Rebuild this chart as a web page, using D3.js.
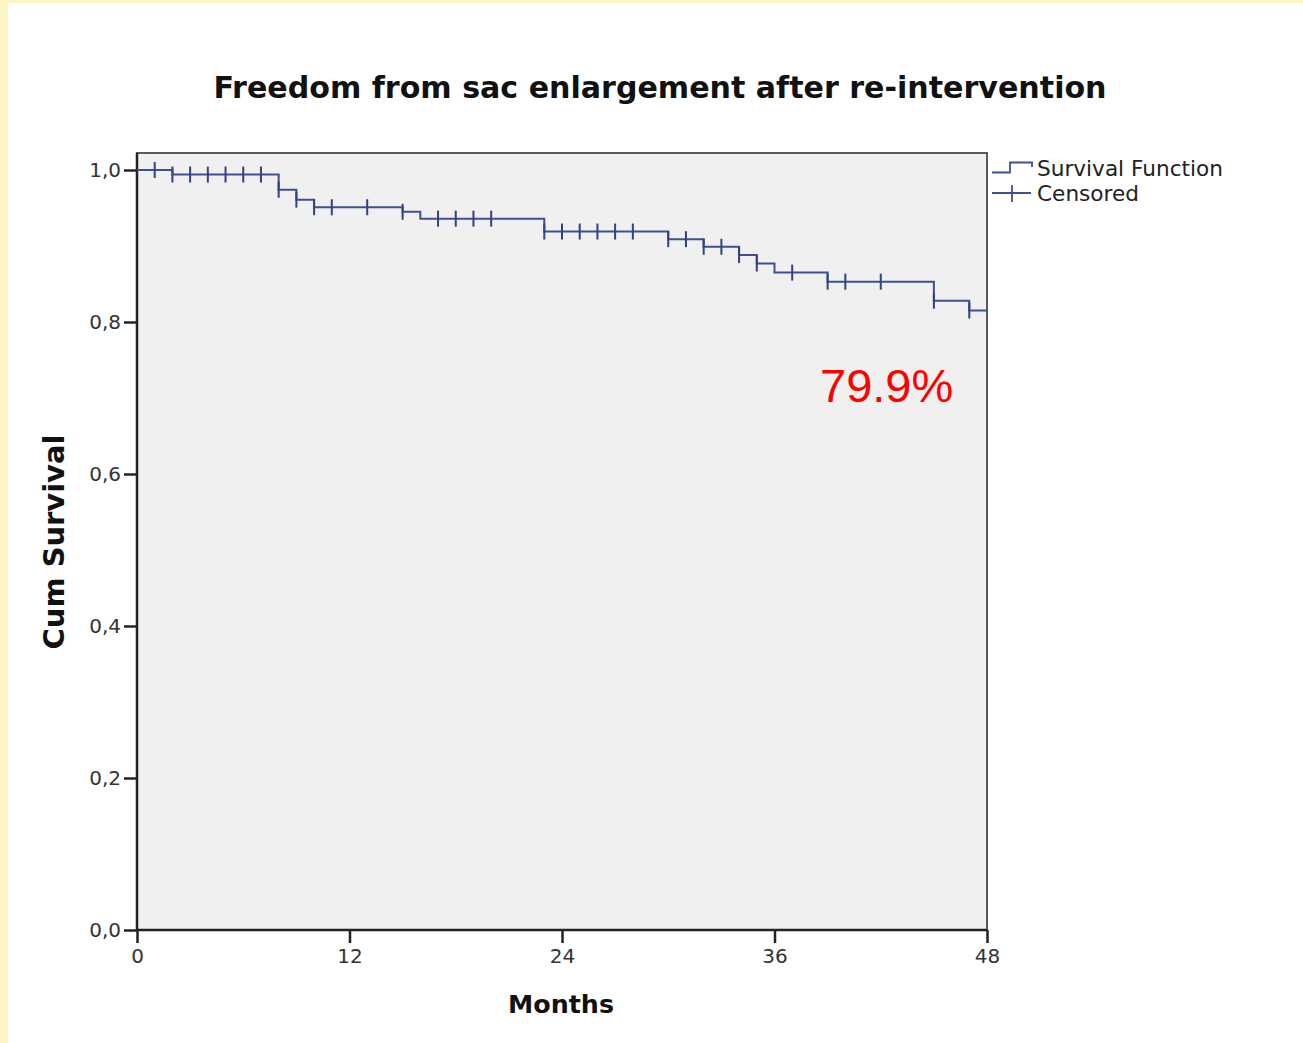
<!DOCTYPE html>
<html>
<head>
<meta charset="utf-8">
<script src="https://cdn.jsdelivr.net/npm/d3@7/dist/d3.min.js"></script>
<style>
  html, body { margin: 0; padding: 0; background: #fdf5c3; }
  svg { display: block; }
</style>
</head>
<body>
<svg id="chart" width="1303" height="1043"></svg>
<script>
// Kaplan-Meier estimate: event times (months) and survival level after each step
const stepTimes    = [0, 2, 8, 9, 10, 15, 16, 23, 30, 32, 34, 35, 36, 39, 45, 47];
const stepSurvival = [1.0, 0.994, 0.974, 0.961, 0.951, 0.945, 0.936, 0.919, 0.909, 0.899, 0.888, 0.877, 0.865, 0.853, 0.828, 0.815];
const followUpEnd  = 48;

// Censored observations (months)
const censoredTimes = [1, 2, 3, 4, 5, 6, 7, 8, 9, 10, 11, 13, 15, 17, 18, 19, 20,
  23, 24, 25, 26, 27, 28, 30, 31, 32, 33, 34, 35, 37, 39, 40, 42, 45, 47];

// Axis ticks
const xTicks = [0, 12, 24, 36, 48];
const yTicks = [0, 0.2, 0.4, 0.6, 0.8, 1.0];
const yTickLabels = ["0,0", "0,2", "0,4", "0,6", "0,8", "1,0"];

const titleText = "Freedom from sac enlargement after re-intervention";
const xTitle = "Months";
const yTitle = "Cum Survival";
const legendLabels = ["Survival Function", "Censored"];
const annotationText = "79.9%";

const svg = d3.select("#chart");
const lineColor = "#3d5091";
const font = "'DejaVu Sans', sans-serif";

// white page on the pale yellow backdrop
svg.append("rect").attr("x", 8).attr("y", 3).attr("width", 1295).attr("height", 1040).attr("fill", "#ffffff");

const plot = { left: 137, right: 987, bottom: 930, top: 153 };
const x = d3.scaleLinear().domain([0, 48]).range([plot.left, plot.right]);
const y = d3.scaleLinear().domain([0, 1]).range([plot.bottom, 170]);

// plot background and frame
svg.append("rect")
  .attr("x", plot.left).attr("y", plot.top)
  .attr("width", plot.right - plot.left).attr("height", plot.bottom - plot.top)
  .attr("fill", "#f0f0f0").attr("stroke", "#5a5a5a").attr("stroke-width", 2);

// axes
const xAxis = svg.append("g").attr("transform", `translate(0,${plot.bottom})`)
  .call(d3.axisBottom(x).tickValues(xTicks).tickFormat(d3.format("d")).tickSize(13).tickPadding(6));
const yAxis = svg.append("g").attr("transform", `translate(${plot.left},0)`)
  .call(d3.axisLeft(y).tickValues(yTicks).tickFormat((d, i) => yTickLabels[i]).tickSize(13).tickPadding(3));

[xAxis, yAxis].forEach(g => {
  g.select(".domain").attr("stroke", "#222").attr("stroke-width", 2.5);
  g.selectAll(".tick line").attr("stroke", "#222").attr("stroke-width", 2.5);
  g.selectAll(".tick text").attr("fill", "#333").style("font-family", font).style("font-size", "20px");
});
xAxis.select(".domain").attr("d", `M${plot.left},0H${plot.right}`);
yAxis.select(".domain").attr("d", `M0,${plot.bottom}V${plot.top}`);

// survival step function
const stepData = stepTimes.map((t, i) => ({ t, s: stepSurvival[i] }));
stepData.push({ t: followUpEnd, s: stepSurvival[stepSurvival.length - 1] });
const stepLine = d3.line().x(d => x(d.t)).y(d => y(d.s)).curve(d3.curveStepAfter);
svg.append("path").datum(stepData)
  .attr("d", stepLine).attr("fill", "none")
  .attr("stroke", lineColor).attr("stroke-width", 2);

// survival level at a given time (for placing censor marks)
function survivalAt(t) {
  let s = stepSurvival[0];
  for (let i = 0; i < stepTimes.length; i++) if (stepTimes[i] <= t) s = stepSurvival[i];
  return s;
}

svg.append("g").selectAll("line").data(censoredTimes).join("line")
  .attr("x1", d => x(d)).attr("x2", d => x(d))
  .attr("y1", d => y(survivalAt(d)) - 8).attr("y2", d => y(survivalAt(d)) + 8)
  .attr("stroke", "#2f4282").attr("stroke-width", 2);

// title
const title = svg.append("text")
  .attr("x", 660).attr("y", 98).attr("text-anchor", "middle")
  .style("font-family", font).style("font-weight", "bold").style("font-size", "30px")
  .attr("fill", "#111").text(titleText);
{
  const w = title.node().getComputedTextLength();
  title.style("font-size", (30 * 893 / w).toFixed(2) + "px");
}

// axis titles
const xt = svg.append("text").attr("x", 561).attr("y", 1013).attr("text-anchor", "middle")
  .style("font-family", font).style("font-weight", "bold").style("font-size", "27px")
  .attr("fill", "#111").text(xTitle);
{
  const w = xt.node().getComputedTextLength();
  xt.style("font-size", (27 * 106 / w).toFixed(2) + "px");
}
const yt = svg.append("text").attr("transform", "translate(64,542) rotate(-90)").attr("text-anchor", "middle")
  .style("font-family", font).style("font-weight", "bold").style("font-size", "27px")
  .attr("fill", "#111").text(yTitle);
{
  const w = yt.node().getComputedTextLength();
  yt.style("font-size", (27 * 215 / w).toFixed(2) + "px");
}

// legend
const legend = svg.append("g");
legend.append("path")
  .attr("d", "M992,172.5H1010V162.5H1032V167")
  .attr("fill", "none").attr("stroke", lineColor).attr("stroke-width", 1.8);
legend.append("line").attr("x1", 992).attr("x2", 1031).attr("y1", 193).attr("y2", 193)
  .attr("stroke", lineColor).attr("stroke-width", 1.8);
legend.append("line").attr("x1", 1012).attr("x2", 1012).attr("y1", 185).attr("y2", 202)
  .attr("stroke", lineColor).attr("stroke-width", 1.8);
legend.selectAll("text").data(legendLabels).join("text")
  .attr("x", 1037).attr("y", (d, i) => 176 + i * 25)
  .style("font-family", font).style("font-size", "20px").attr("fill", "#222")
  .text(d => d);
{
  const first = legend.select("text").node();
  const w = first.getComputedTextLength();
  legend.selectAll("text").style("font-size", (20 * 186 / w).toFixed(2) + "px");
}

// annotation
svg.append("text").attr("x", 820).attr("y", 402)
  .style("font-family", "'Liberation Sans', Arial, sans-serif").style("font-size", "47px")
  .attr("fill", "#ff0000").text(annotationText);
</script>
</body>
</html>
